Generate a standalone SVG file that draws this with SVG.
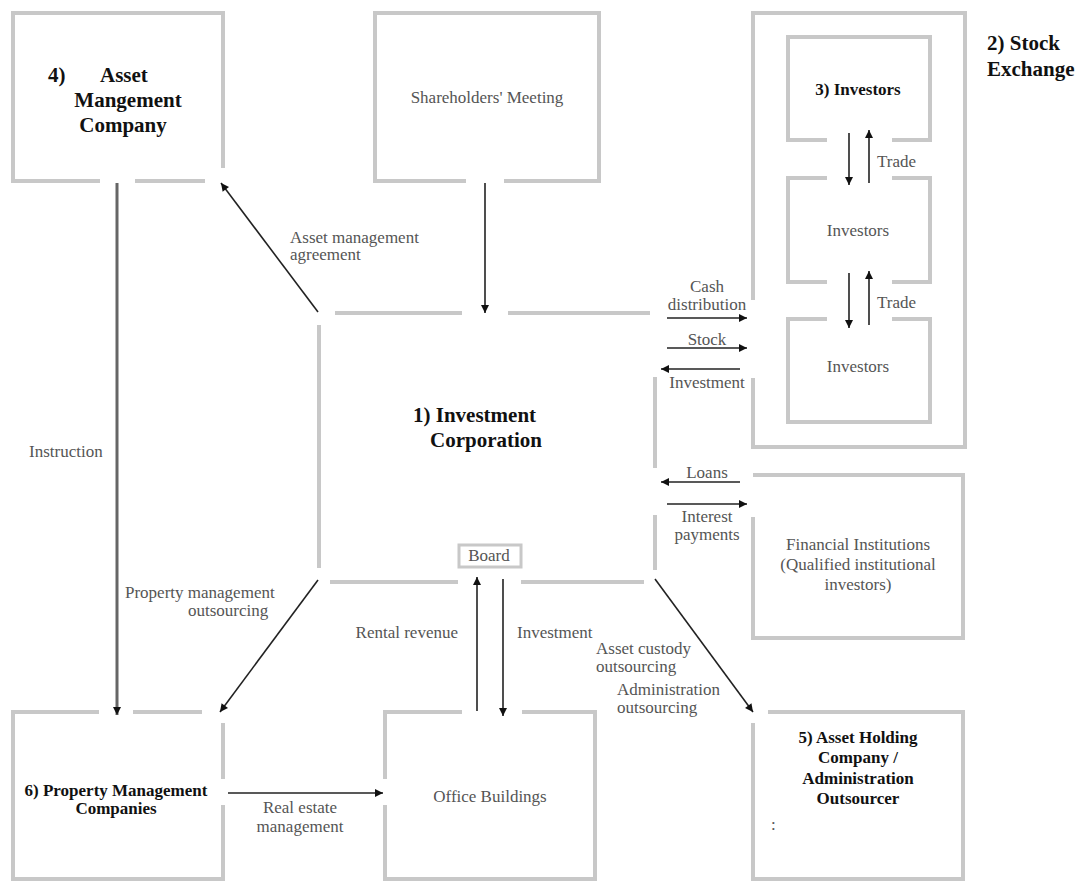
<svg xmlns="http://www.w3.org/2000/svg" width="1080" height="882" viewBox="0 0 1080 882">
<defs>
<style>
.box{fill:none;stroke:#c8c8c8;stroke-width:4}
.con{fill:none;stroke:#222;stroke-width:1.6;marker-end:url(#ah)}
.thick{stroke:#666;stroke-width:3}
.lbl{font-size:17px;fill:#555}
.ttl{font-weight:bold;fill:#111}
.mid{text-anchor:middle}
</style>
<marker id="ah" viewBox="0 0 10 10" refX="10" refY="5" markerWidth="9" markerHeight="8" markerUnits="userSpaceOnUse" orient="auto">
<path d="M0,0 L10,5 L0,10 z" fill="#111"/>
</marker>
</defs>
<rect width="1080" height="882" fill="#fff"/>
<g font-family="Times New Roman, Liberation Serif, Noto Serif, DejaVu Serif, serif">

<g id="asset-management">
<path class="box" d="M100,181 H13 V13 H223 V168 M135,181 H205"/>
<text class="ttl" font-size="21" x="48" y="82">4)</text>
<text class="ttl" font-size="21" x="100" y="82">Asset</text>
<text class="ttl mid" font-size="21" x="128" y="107">Mangement</text>
<text class="ttl mid" font-size="21" x="123" y="132">Company</text>
</g>

<g id="shareholders-meeting">
<path class="box" d="M466,181 H375 V13 H599 V181 H504"/>
<text class="lbl mid" x="487" y="103">Shareholders' Meeting</text>
</g>

<g id="stock-exchange">
<path class="box" d="M753,300 V13 H965 V447 H753 V378"/>
<text class="ttl" font-size="21" x="987" y="50">2) Stock</text>
<text class="ttl" font-size="21" x="987" y="76">Exchange</text>
</g>

<g id="investors-1">
<path class="box" d="M827,140 H788 V37 H930 V140 H892"/>
<text class="ttl mid" font-size="17" x="858" y="95">3) Investors</text>
</g>

<g id="investors-2">
<path class="box" d="M827,178 H788 V282 H827 M892,178 H930 V282 H892"/>
<text class="lbl mid" x="858" y="236">Investors</text>
</g>

<g id="investors-3">
<path class="box" d="M827,319 H788 V422 H930 V319 H892"/>
<text class="lbl mid" x="858" y="372">Investors</text>
</g>

<g id="investment-corporation">
<path class="box" d="M335,313 H462 M508,313 H650 M319,325 V568 M330,582 H458 M521,582 H644 M655,377 V468 M655,515 V570"/>
<text class="ttl" font-size="21" x="413" y="422">1) Investment</text>
<text class="ttl" font-size="21" x="430" y="447">Corporation</text>
</g>

<g id="board">
<rect x="459" y="545" width="62" height="22" fill="none" stroke="#c8c8c8" stroke-width="3"/>
<text class="lbl mid" x="489" y="561">Board</text>
</g>

<g id="financial-institutions">
<path class="box" d="M753,517 V638 H963 V475 H753"/>
<text class="lbl mid" x="858" y="550">Financial Institutions</text>
<text class="lbl mid" x="858" y="570">(Qualified institutional</text>
<text class="lbl mid" x="858" y="590">investors)</text>
</g>

<g id="property-management">
<path class="box" d="M99,712 H13 V879 H223 V805 M223,779 V723 M133,712 H202"/>
<text class="ttl mid" font-size="17" x="116" y="796">6) Property Management</text>
<text class="ttl mid" font-size="17" x="116" y="814">Companies</text>
</g>

<g id="office-buildings">
<path class="box" d="M462,712 H385 V779 M385,805 V879 H595 V712 H522"/>
<text class="lbl mid" x="490" y="802">Office Buildings</text>
</g>

<g id="asset-holding">
<path class="box" d="M753,723 V879 H963 V712 H768"/>
<text class="ttl mid" font-size="17" x="858" y="743">5) Asset Holding</text>
<text class="ttl mid" font-size="17" x="858" y="763">Company /</text>
<text class="ttl mid" font-size="17" x="858" y="784">Administration</text>
<text class="ttl mid" font-size="17" x="858" y="804">Outsourcer</text>
<text class="lbl" font-size="9" x="771" y="830">:</text>
</g>

<g id="connectors">
<line class="con" x1="485" y1="183" x2="485" y2="313"/>
<line class="con" x1="318" y1="312" x2="221" y2="183"/>
<line class="con thick" x1="117" y1="183" x2="117" y2="715"/>
<line class="con" x1="318" y1="580" x2="220" y2="712"/>
<line class="con" x1="655" y1="579" x2="753" y2="712"/>
<line class="con" x1="477" y1="711" x2="477" y2="577"/>
<line class="con" x1="503" y1="579" x2="503" y2="716"/>
<line class="con" x1="228" y1="793" x2="383" y2="793"/>
<line class="con" x1="667" y1="318" x2="747" y2="318"/>
<line class="con" x1="667" y1="348" x2="747" y2="348"/>
<line class="con" x1="740" y1="369" x2="661" y2="369"/>
<line class="con" x1="740" y1="482" x2="661" y2="482"/>
<line class="con" x1="667" y1="504" x2="747" y2="504"/>
<line class="con" x1="849" y1="133" x2="849" y2="185"/>
<line class="con" x1="869" y1="183" x2="869" y2="130"/>
<line class="con" x1="849" y1="273" x2="849" y2="328"/>
<line class="con" x1="869" y1="325" x2="869" y2="271"/>
<text class="lbl" x="290" y="243">Asset management</text>
<text class="lbl" x="290" y="260">agreement</text>
<text class="lbl" x="29" y="457">Instruction</text>
<text class="lbl" x="125" y="598">Property management</text>
<text class="lbl" x="188" y="616">outsourcing</text>
<text class="lbl" x="458" y="638" text-anchor="end">Rental revenue</text>
<text class="lbl" x="517" y="638">Investment</text>
<text class="lbl" x="596" y="654">Asset custody</text>
<text class="lbl" x="596" y="672">outsourcing</text>
<text class="lbl" x="617" y="695">Administration</text>
<text class="lbl" x="617" y="713">outsourcing</text>
<text class="lbl mid" x="300" y="813">Real estate</text>
<text class="lbl mid" x="300" y="832">management</text>
<text class="lbl mid" x="707" y="292">Cash</text>
<text class="lbl mid" x="707" y="310">distribution</text>
<text class="lbl mid" x="707" y="345">Stock</text>
<text class="lbl mid" x="707" y="388">Investment</text>
<text class="lbl mid" x="707" y="478">Loans</text>
<text class="lbl mid" x="707" y="522">Interest</text>
<text class="lbl mid" x="707" y="540">payments</text>
<text class="lbl" x="877" y="167">Trade</text>
<text class="lbl" x="877" y="308">Trade</text>
</g>
</g>
</svg>
